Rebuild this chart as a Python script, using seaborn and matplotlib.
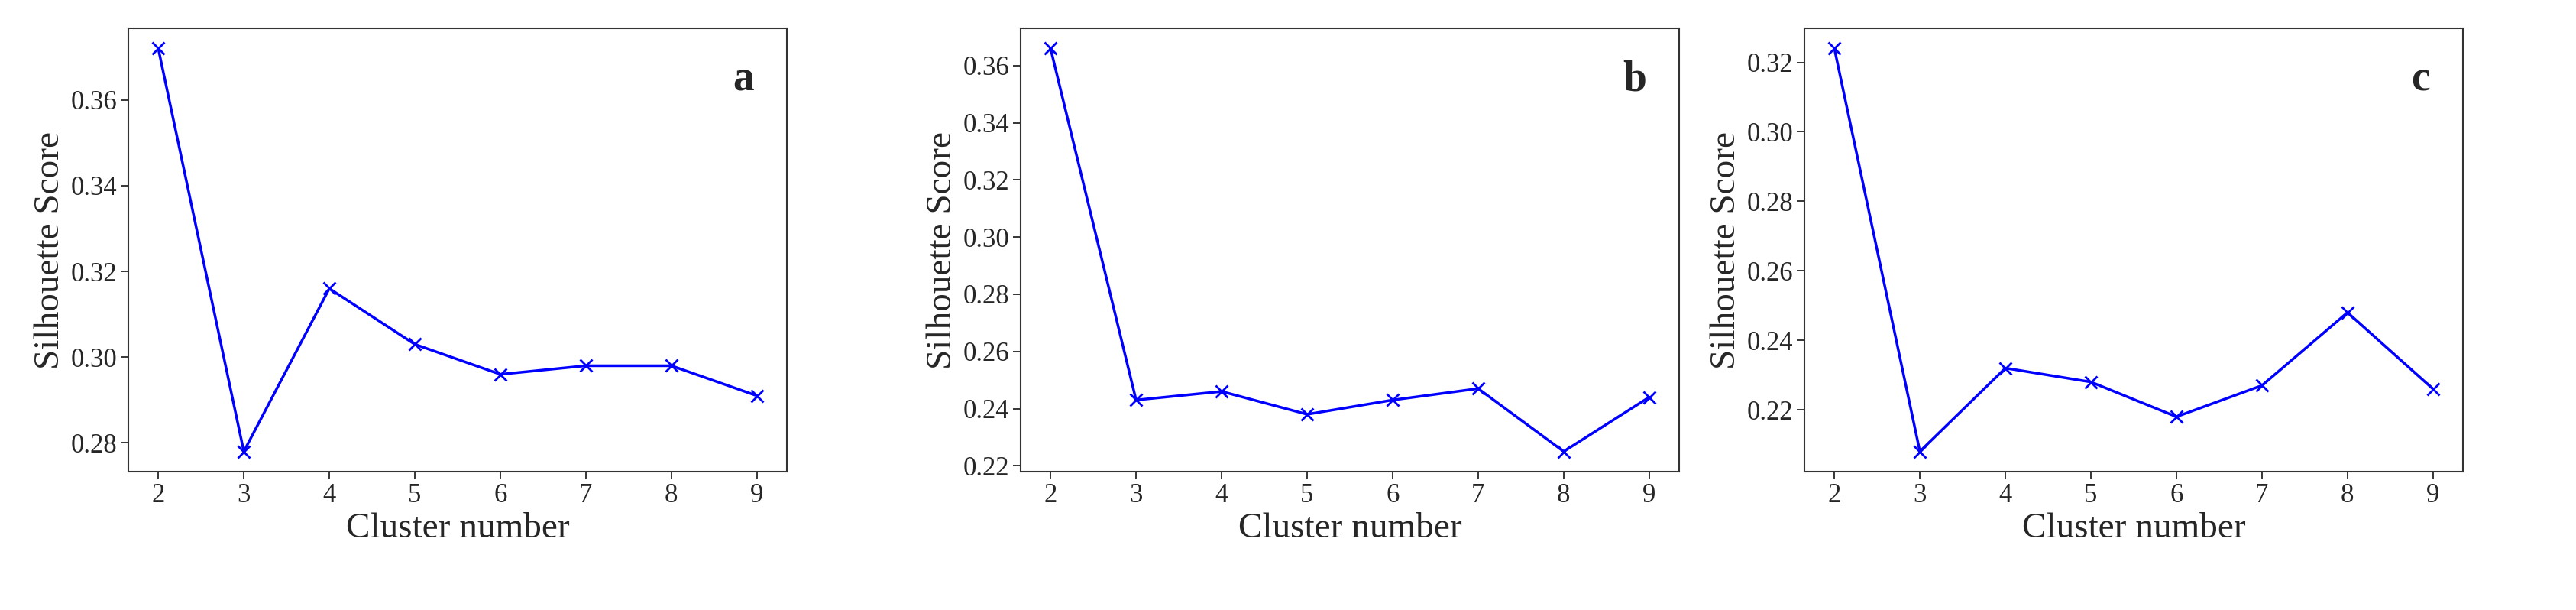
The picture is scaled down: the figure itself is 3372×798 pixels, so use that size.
import matplotlib
matplotlib.use("Agg")
import matplotlib.pyplot as plt
import seaborn as sns
import pandas as pd

clusters = [2, 3, 4, 5, 6, 7, 8, 9]
scores_a = [0.372, 0.278, 0.316, 0.303, 0.296, 0.298, 0.298, 0.291]
scores_b = [0.366, 0.243, 0.246, 0.238, 0.243, 0.247, 0.225, 0.244]
scores_c = [0.324, 0.208, 0.232, 0.228, 0.218, 0.227, 0.248, 0.226]
panel_labels = ["a", "b", "c"]

sns.set_style("ticks")
plt.rcParams['font.family'] = ['Liberation Serif', 'DejaVu Serif']

fig = plt.figure(figsize=(33.73, 7.98), dpi=100)
lefts = [168, 1336, 2362]
width = 862
bottom, top = 617, 37
H, W = 798, 3373

for left, scores, lab in zip(lefts, [scores_a, scores_b, scores_c], panel_labels):
    ax = fig.add_axes([left / W, 1 - bottom / H, width / W, (bottom - top) / H])
    df = pd.DataFrame({"k": clusters, "score": scores})
    sns.lineplot(data=df, x="k", y="score", ax=ax, color="blue", marker="x",
                 markersize=12, markeredgewidth=2, markeredgecolor="blue",
                 linewidth=2.5)
    ax.set_xticks(clusters)
    ax.set_xlabel("Cluster number", fontsize=34)
    ax.set_ylabel("Silhouette Score", fontsize=34)
    ax.tick_params(labelsize=25, length=7, width=1.3)
    for s in ax.spines.values():
        s.set_color("#333333")
        s.set_linewidth(1.5)
    span = max(scores) - min(scores)
    ax.set_ylim(min(scores) - 0.05 * span, max(scores) + 0.05 * span)
    ax.set_xlim(1.65, 9.35)
    ax.text(0.95, 0.86, lab, transform=ax.transAxes, fontsize=40,
            fontweight="bold", ha="right")

fig.savefig("out.png", dpi=100)
